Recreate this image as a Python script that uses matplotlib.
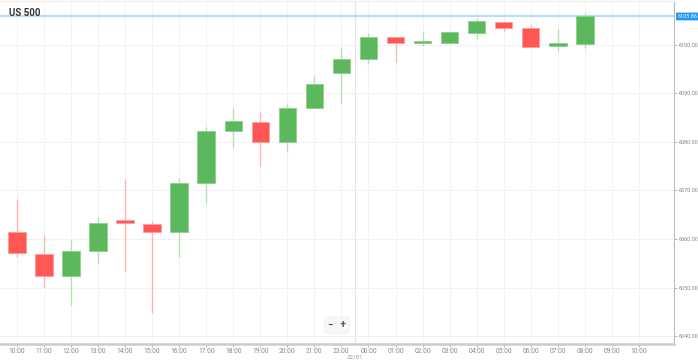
import numpy as np
import matplotlib.pyplot as plt

plt.rcParams['font.family'] = ['Roboto', 'DejaVu Sans']

# hourly candles, US 500
hours = ["10:00", "11:00", "12:00", "13:00", "14:00", "15:00", "16:00", "17:00",
         "18:00", "19:00", "20:00", "21:00", "23:00", "00:00", "01:00", "02:00",
         "03:00", "04:00", "05:00", "06:00", "07:00", "08:00", "09:00", "10:00"]
opens = [6061.44, 6056.91, 6052.43, 6057.46, 6063.98, 6063.15, 6061.38, 6071.61,
         6082.21, 6084.12, 6079.94, 6087.07, 6094.16, 6097.05, 6101.59, 6100.35,
         6100.47, 6102.54, 6104.80, 6103.57, 6099.79, 6100.14]
highs = [6068.25, 6060.82, 6059.79, 6064.47, 6072.37, 6063.71, 6072.50, 6083.03,
         6086.95, 6086.19, 6087.84, 6093.81, 6099.65, 6102.41, 6101.59, 6102.95,
         6102.89, 6105.51, 6104.89, 6104.12, 6103.24, 6106.54]
lows = [6056.35, 6050.16, 6046.39, 6055.11, 6053.40, 6044.68, 6056.35, 6067.36,
        6078.82, 6075.05, 6078.00, 6087.01, 6087.98, 6096.02, 6096.56, 6099.86,
        6100.14, 6101.24, 6102.95, 6099.65, 6098.82, 6099.44]
closes = [6057.05, 6052.37, 6057.53, 6063.36, 6063.24, 6061.44, 6071.60, 6082.27,
          6084.27, 6079.94, 6086.95, 6091.96, 6097.05, 6101.71, 6100.47, 6100.76,
          6102.74, 6105.01, 6103.51, 6099.65, 6100.47, 6105.86]
last_price = 6105.86
price_ticks = [6040, 6050, 6060, 6070, 6080, 6090, 6100]

up_col, dn_col = "#5cb85c", "#ff5656"
up_wick, dn_wick = "#b5dfb5", "#ffb3b3"

fig = plt.figure(figsize=(6.98, 3.61), dpi=100)
ax = fig.add_axes([0.0, 0.047, 0.9656, 0.9505])

x = np.arange(len(opens))
o = np.array(opens); c = np.array(closes)
up = c >= o
ax.vlines(x[up], np.array(lows)[up], np.array(highs)[up], color=up_wick, lw=1, zorder=2)
ax.vlines(x[~up], np.array(lows)[~up], np.array(highs)[~up], color=dn_wick, lw=1, zorder=2)
ax.bar(x[up], (c - o)[up], bottom=o[up], width=0.65, color=up_col,
       edgecolor="#8fd08f", linewidth=0.6, zorder=3)
ax.bar(x[~up], (o - c)[~up], bottom=c[~up], width=0.65, color=dn_col,
       edgecolor="#ff9a9a", linewidth=0.6, zorder=3)

# current price line
ax.axhline(last_price, color="#aad4f5", lw=1.2, zorder=1)

ax.set_xlim(-0.63, 24.3)
ax.set_ylim(6038.35, 6109.07)
ax.set_xticks(range(len(hours)))
ax.set_xticklabels(hours)
ax.set_yticks(price_ticks)
ax.set_yticklabels(["%.2f" % p for p in price_ticks])
ax.yaxis.tick_right()
ax.tick_params(axis="both", colors="#aaaaaa", labelcolor="#888888", length=2, width=0.6)
ax.tick_params(axis="y", labelsize=4.0, pad=1)
ax.tick_params(axis="x", labelsize=4.8, pad=1.2)
ax.grid(True, color="#f2f2f2", lw=0.7, zorder=0)
ax.set_axisbelow(True)

ax.spines["left"].set_visible(False)
ax.spines["top"].set_color("#eeeeee")
ax.spines["right"].set_color("#bbbbbb")
ax.spines["right"].set_linewidth(0.8)
ax.spines["bottom"].set_color("#cccccc")
ax.spines["bottom"].set_linewidth(1.8)

# day separator
ax.axvline(12.5, color="#e4e4e4", lw=0.8, zorder=0)
ax.annotate("22/01", xy=(12.5, 0), xycoords=("data", "axes fraction"),
            xytext=(0, -7.5), textcoords="offset points", ha="center", va="top",
            fontsize=4.5, color="#999999", annotation_clip=False)

ax.text(0.013, 0.965, "US 500", transform=ax.transAxes, fontsize=7, fontweight="bold",
        color="#333333", va="center", ha="left")

ax.annotate("%.2f" % last_price, xy=(1, last_price), xycoords=("axes fraction", "data"),
            xytext=(2.5, 0), textcoords="offset points", ha="left", va="center",
            fontsize=4.0, color="white", annotation_clip=False,
            bbox=dict(boxstyle="round,pad=0.25,rounding_size=0.15", fc="#2196f3", ec="none"))

# zoom buttons
ax.text(0.5, 0.055, "\u2212   +", transform=ax.transAxes, fontsize=7, fontweight="bold",
        color="#555555", ha="center", va="center",
        bbox=dict(boxstyle="round,pad=0.35", fc="#f7f7f7", ec="#eeeeee", lw=0.5))

fig.savefig("out.png", dpi=100)
